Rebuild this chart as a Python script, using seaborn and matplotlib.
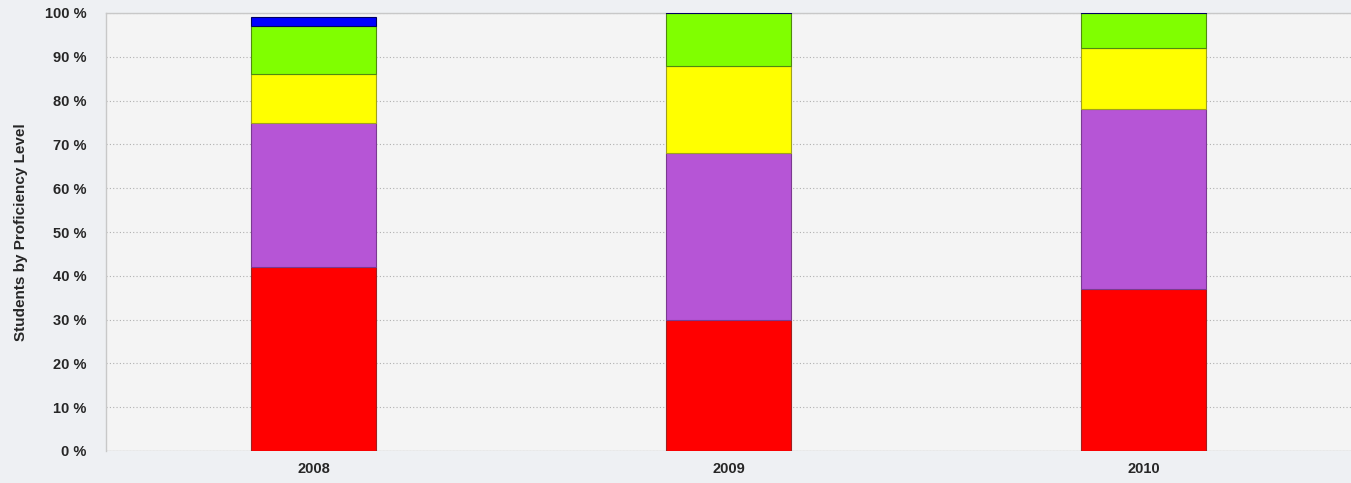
import seaborn as sns
import matplotlib.pyplot as plt
import pandas as pd
import numpy as np

years = ["2008", "2009", "2010"]
level1 = [42, 30, 37]     # red
level2 = [33, 38, 41]     # purple
level3 = [11, 20, 14]     # yellow
level4 = [11, 12, 8]      # green
level5 = [2, 0.3, 0.5]    # blue

series = [level1, level2, level3, level4, level5]
colors = ["#ff0000", "#b655d6", "#ffff00", "#80ff00", "#0000ff"]
edges = ["#a02020", "#7a3a90", "#a0a020", "#508a10", "#000060"]

sns.set_style("white")
plt.rcParams['font.family'] = ['Liberation Sans', 'DejaVu Sans']

fig = plt.figure(figsize=(13.51, 4.83), dpi=100)
fig.patch.set_facecolor("#eef0f3")
ax = fig.add_axes([106 / 1351, 1 - 451 / 483, 1245 / 1351, 438 / 483])
ax.set_facecolor("#f4f4f4")

bottom = np.zeros(len(years))
for vals, c, ec in zip(series, colors, edges):
    df = pd.DataFrame({"year": years, "pct": vals})
    sns.barplot(x="year", y="pct", data=df, ax=ax, color=c, bottom=bottom,
                width=0.3, edgecolor=ec, linewidth=0.8, saturation=1, zorder=3)
    bottom = bottom + np.array(vals)

ax.set_xlim(-0.5, 2.5)
ax.set_ylim(0, 100)
ax.set_yticks(range(0, 101, 10))
ax.set_yticklabels([f"{v} %" for v in range(0, 101, 10)], fontweight="bold", fontsize=10.5)
ax.set_xticks(range(len(years)))
ax.set_xticklabels(years, fontweight="bold", fontsize=10.5)
ax.yaxis.grid(True, linestyle=(0, (1, 2)), color="#b0b0b0", linewidth=0.8, zorder=0)
ax.set_axisbelow(True)
ax.set_xlabel("")
ax.set_ylabel("Students by Proficiency Level", fontweight="bold", fontsize=11, labelpad=12)
ax.tick_params(axis="y", length=0, pad=14)
ax.tick_params(axis="x", length=0, pad=8)
for side in ["left", "top"]:
    ax.spines[side].set_color("#c8c8c8")
    ax.spines[side].set_linewidth(1)
for side in ["right", "bottom"]:
    ax.spines[side].set_visible(False)
ax.axhline(0, color="#c8c8c8", linewidth=1, zorder=1)

plt.savefig("out.png", dpi=100, facecolor=fig.get_facecolor())
plt.close()
